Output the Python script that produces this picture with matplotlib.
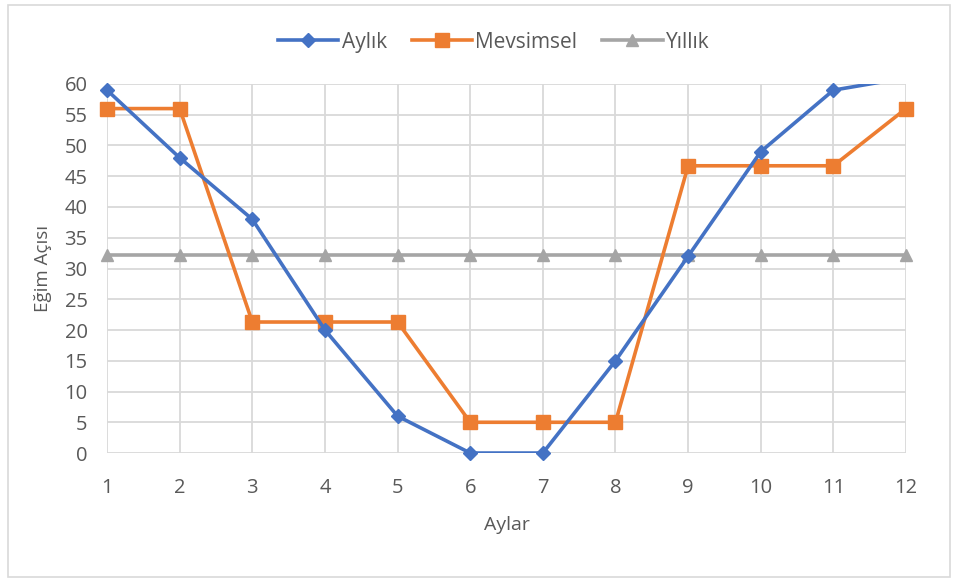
import matplotlib.pyplot as plt
from matplotlib.patches import Rectangle

plt.rcParams['font.family'] = ['Open Sans', 'DejaVu Sans']

aylar = [1, 2, 3, 4, 5, 6, 7, 8, 9, 10, 11, 12]
aylik = [59, 48, 38, 20, 6, 0, 0, 15, 32, 49, 59, 61]
mevsimsel = [56, 56, 21.3, 21.3, 21.3, 5, 5, 5, 46.7, 46.7, 46.7, 56]
yillik = [32.25] * 12

text_color = '#595959'
grid_color = '#D9D9D9'
y_max = 60

fig = plt.figure(figsize=(9.6, 5.82), dpi=100)
ax = fig.add_axes([0.1115, 0.2216, 0.8323, 0.6341])

# Aylık: cizgi kirpilir, eksen icindeki isaretler tam gorunur
ax.plot(aylar, aylik, color='#4472C4', lw=2.6, zorder=4)
ax.plot([a for a, v in zip(aylar, aylik) if v <= y_max],
        [v for v in aylik if v <= y_max],
        ls='none', color='#4472C4', marker='D', ms=7, clip_on=False, zorder=5)
ax.plot([], [], color='#4472C4', lw=2.6, marker='D', ms=7, label='Aylık')

ax.plot(aylar, mevsimsel, color='#ED7D31', lw=2.6, marker='s', ms=10,
        label='Mevsimsel', clip_on=False, zorder=3)
ax.plot(aylar, yillik, color='#A5A5A5', lw=2.6, marker='^', ms=8,
        label='Yıllık', clip_on=False, zorder=2)

ax.set_xlim(1, 12)
ax.set_ylim(0, y_max)
ax.set_xticks(aylar)
ax.set_yticks(range(0, 61, 5))
ax.grid(True, color=grid_color, lw=1.3)
ax.set_axisbelow(True)
for s in ax.spines.values():
    s.set_visible(False)
ax.tick_params(length=0, labelsize=14.5, colors=text_color)
ax.tick_params(axis='x', pad=18)
ax.tick_params(axis='y', pad=14)

ax.set_xlabel('Aylar', fontsize=14, color=text_color, labelpad=13)
ax.set_ylabel('Eğim Açısı', fontsize=13.5, color=text_color, labelpad=9)

leg = ax.legend(loc='center', bbox_to_anchor=(0.484, 1.113), ncol=3,
                frameon=False, fontsize=15, handlelength=2.9,
                columnspacing=1.2, handletextpad=0.15)
for t in leg.get_texts():
    t.set_color(text_color)

# çerçeve
fig.patches.append(Rectangle((0.008, 0.008), 0.982, 0.984,
                             transform=fig.transFigure, fill=False,
                             edgecolor=grid_color, lw=1.2))

fig.savefig('out.png', dpi=100)
